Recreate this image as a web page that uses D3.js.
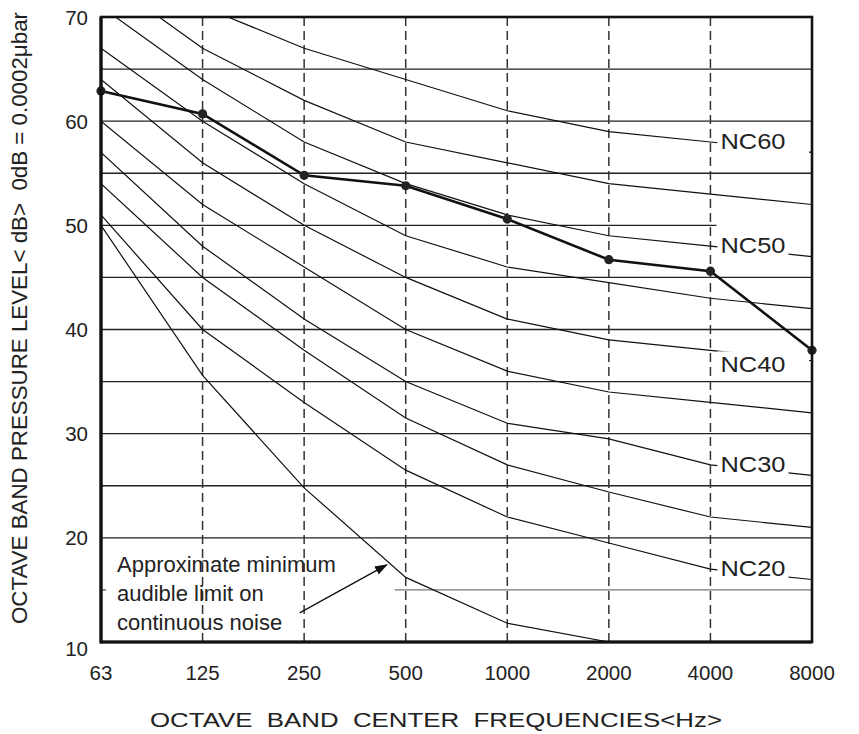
<!DOCTYPE html>
<html>
<head>
<meta charset="utf-8">
<script src="https://cdn.jsdelivr.net/npm/d3@7"></script>
<style>
  html, body { margin: 0; padding: 0; background: #fff; }
  svg { display: block; }
  text { font-family: "Liberation Sans", Arial, Helvetica, sans-serif; fill: #222; }
</style>
</head>
<body>
<svg id="chart" width="859" height="734"></svg>
<script>
// ---------- data ----------
const freqLabels = ["63", "125", "250", "500", "1000", "2000", "4000", "8000"];
const yTicks = [10, 20, 30, 40, 50, 60, 70];
const gridLevels = [15, 20, 25, 30, 35, 40, 45, 50, 55, 60, 65];

const nc60 = [77, 71, 67, 64, 61, 59, 58, 57];
const nc55 = [74, 67, 62, 58, 56, 54, 53, 52];
const nc50 = [71, 64, 58, 54, 51, 49, 48, 47];
const nc45 = [67, 60, 54, 49, 46, 44.5, 43, 42];
const nc40 = [64, 56, 50, 45, 41, 39, 38, 37];
const nc35 = [60, 52, 46, 40, 36, 34, 33, 32];
const nc30 = [57, 48, 41, 35, 31, 29.5, 27, 26];
const nc25 = [54, 45, 38, 31.5, 27, 24.4, 22, 21];
const nc20 = [51, 40, 33, 26.5, 22, 19.5, 17, 16];
const minAudible = [50, 35.6, 24.8, 16.2, 11.8, 10];
const measured = [62.9, 60.7, 54.8, 53.8, 50.6, 46.7, 45.6, 38.0];

const ncCurves = [
  { name: "NC60", values: nc60, label: true },
  { name: "NC55", values: nc55, label: false },
  { name: "NC50", values: nc50, label: true },
  { name: "NC45", values: nc45, label: false },
  { name: "NC40", values: nc40, label: true },
  { name: "NC35", values: nc35, label: false },
  { name: "NC30", values: nc30, label: true },
  { name: "NC25", values: nc25, label: false },
  { name: "NC20", values: nc20, label: true }
];

const noteLines = ["Approximate minimum", "audible limit on", "continuous noise"];
const xTitle = "OCTAVE  BAND  CENTER  FREQUENCIES<Hz>";
const yTitle = "OCTAVE BAND PRESSURE LEVEL< dB>  0dB = 0.0002\u03BCbar";

// ---------- layout ----------
const L = 101, R = 812, T = 17, B = 642;
const svg = d3.select("#chart");

const x = d3.scalePoint().domain(freqLabels).range([L, R]).padding(0);
const y = d3.scaleLinear().domain([10, 70]).range([B, T]);

const defs = svg.append("defs");
defs.append("clipPath").attr("id", "plotclip")
  .append("rect").attr("x", L).attr("y", T).attr("width", R - L).attr("height", B - T);
defs.append("marker").attr("id", "arrow")
  .attr("viewBox", "0 0 10 10").attr("refX", 9).attr("refY", 5)
  .attr("markerWidth", 13).attr("markerHeight", 13).attr("markerUnits", "userSpaceOnUse")
  .attr("orient", "auto")
  .append("path").attr("d", "M0,1.5 L10,5 L0,8.5 Z").attr("fill", "#111");

// horizontal grid lines
const grid = svg.append("g");
gridLevels.forEach(v => {
  let x1 = L, x2 = R;
  if (v === 50) x2 = x("4000") + 6;
  if (v === 15) {
    x1 = x("500") - 11;
    grid.append("line").attr("x1", L).attr("x2", L + 5)
      .attr("y1", y(v)).attr("y2", y(v))
      .attr("stroke", "#555").attr("stroke-width", 1.3);
  }
  grid.append("line").attr("x1", x1).attr("x2", x2)
    .attr("y1", y(v)).attr("y2", y(v))
    .attr("stroke", v === 15 ? "#777" : "#222").attr("stroke-width", 1.4);
});

// vertical dashed lines
freqLabels.slice(1, -1).forEach(f => {
  grid.append("line").attr("x1", x(f)).attr("x2", x(f))
    .attr("y1", T).attr("y2", B)
    .attr("stroke", "#333").attr("stroke-width", 1.5)
    .attr("stroke-dasharray", "9,5");
});

// NC curves
const line = d3.line().x((d, i) => x(freqLabels[i])).y(d => y(d));
const curves = svg.append("g").attr("clip-path", "url(#plotclip)");
ncCurves.forEach(c => {
  curves.append("path").attr("d", line(c.values))
    .attr("fill", "none").attr("stroke", "#111").attr("stroke-width", 1.2);
});
curves.append("path").attr("d", line(minAudible))
  .attr("fill", "none").attr("stroke", "#111").attr("stroke-width", 1.2);

// NC labels with white background
const labels = svg.append("g");
ncCurves.filter(c => c.label).forEach(c => {
  const v4 = c.values[6];
  const g = labels.append("g");
  const t = g.append("text")
    .attr("x", x("4000") + 10)
    .attr("y", y(v4) + (c.name === "NC40" ? 15 : 0))
    .attr("dominant-baseline", "central")
    .attr("font-size", 21.5)
    .attr("textLength", 65).attr("lengthAdjust", "spacingAndGlyphs")
    .text(c.name);
  const bb = t.node().getBBox();
  let w = bb.width + 6;
  if (c.name === "NC60" || c.name === "NC40") w = R - 3 - (x("4000") + 7);
  g.insert("rect", "text")
    .attr("x", x("4000") + 7).attr("y", bb.y - 2)
    .attr("width", w).attr("height", bb.height + 4)
    .attr("fill", "#fff");
});

// measured data line
const data = svg.append("g");
data.append("path").attr("d", line(measured))
  .attr("fill", "none").attr("stroke", "#111").attr("stroke-width", 2.6);
data.selectAll("circle").data(measured).join("circle")
  .attr("cx", (d, i) => x(freqLabels[i])).attr("cy", d => y(d))
  .attr("r", 4.6).attr("fill", "#222");

// frame
svg.append("rect").attr("x", L).attr("y", T).attr("width", R - L).attr("height", B - T)
  .attr("fill", "none").attr("stroke", "#111").attr("stroke-width", 2.6);
svg.append("line").attr("x1", L).attr("x2", L).attr("y1", T).attr("y2", B + 1.5)
  .attr("stroke", "#111").attr("stroke-width", 3.2);
svg.append("line").attr("x1", L).attr("x2", R).attr("y1", B).attr("y2", B)
  .attr("stroke", "#111").attr("stroke-width", 3.2);

// y tick labels
svg.append("g").selectAll("text").data(yTicks).join("text")
  .attr("x", 88).attr("y", d => y(d) + (d === 10 ? 6 : 0))
  .attr("text-anchor", "end").attr("dominant-baseline", "central")
  .attr("font-size", 20.5).text(d => d);

// x tick labels
svg.append("g").selectAll("text").data(freqLabels).join("text")
  .attr("x", d => x(d)).attr("y", 672)
  .attr("text-anchor", "middle").attr("dominant-baseline", "central")
  .attr("font-size", 20.5).text(d => d);

// axis titles
svg.append("text").attr("x", 436).attr("y", 720)
  .attr("text-anchor", "middle").attr("dominant-baseline", "central")
  .attr("font-size", 20).style("white-space", "pre")
  .attr("textLength", 572).attr("lengthAdjust", "spacingAndGlyphs")
  .text(xTitle);

svg.append("text")
  .attr("transform", "translate(19,318) rotate(-90)")
  .attr("text-anchor", "middle").attr("dominant-baseline", "central")
  .attr("font-size", 22).style("white-space", "pre")
  .attr("textLength", 612).attr("lengthAdjust", "spacingAndGlyphs")
  .text(yTitle);

// annotation
const note = svg.append("g");
noteLines.forEach((s, i) => {
  note.append("text").attr("x", 117).attr("y", 572 + i * 29)
    .attr("font-size", 22).attr("fill", "#333").text(s);
});
note.append("line")
  .attr("x1", x("125") + 97).attr("y1", y(12.8))
  .attr("x2", x("500") - 19).attr("y2", y(17.4))
  .attr("stroke", "#111").attr("stroke-width", 1.3)
  .attr("marker-end", "url(#arrow)");
</script>
</body>
</html>
